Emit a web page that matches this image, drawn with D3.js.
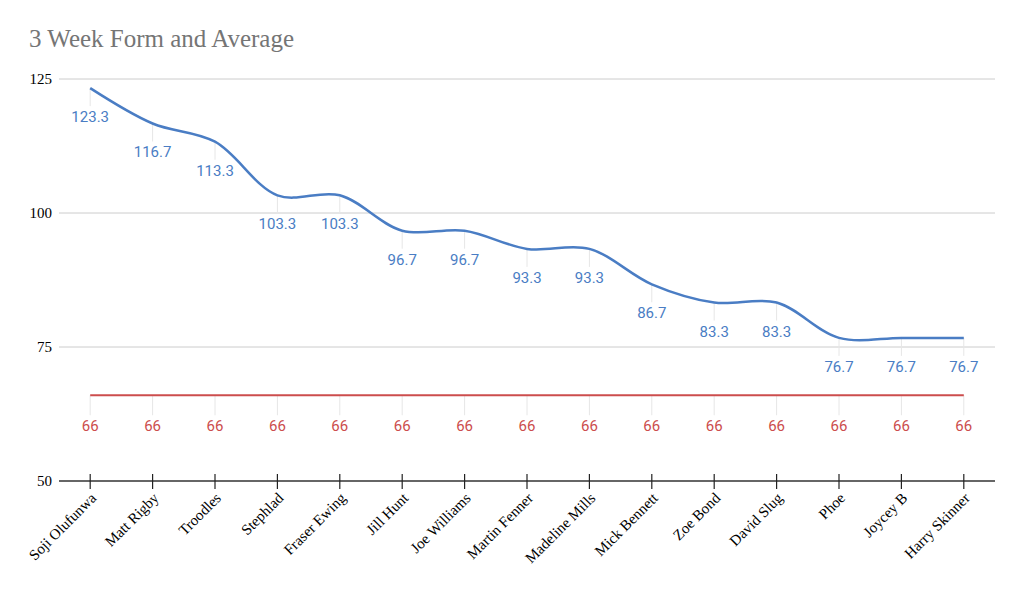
<!DOCTYPE html>
<html>
<head>
<meta charset="utf-8">
<script src="https://cdn.jsdelivr.net/npm/d3@7.9.0/dist/d3.min.js"></script>
<style>
  body { margin: 0; background: #fff; }
</style>
</head>
<body>
<div id="chart"></div>
<script>
// players, 3 week form, and the average line
const players = ['Soji Olufunwa', 'Matt Rigby', 'Troodles', 'Stephlad', 'Fraser Ewing', 'Jill Hunt',
  'Joe Williams', 'Martin Fenner', 'Madeline Mills', 'Mick Bennett', 'Zoe Bond', 'David Slug',
  'Phoe', 'Joycey B', 'Harry Skinner'];
const form = [123.3, 116.7, 113.3, 103.3, 103.3, 96.7, 96.7, 93.3, 93.3, 86.7, 83.3, 83.3, 76.7, 76.7, 76.7];
const average = [66, 66, 66, 66, 66, 66, 66, 66, 66, 66, 66, 66, 66, 66, 66];
const yTicks = [50, 75, 100, 125];

const width = 1022;
const height = 595;

const svg = d3.select('#chart')
  .append('svg')
  .attr('width', width)
  .attr('height', height);

// title
svg.append('text')
  .attr('x', 29)
  .attr('y', 47)
  .attr('font-family', 'Liberation Serif, Times New Roman, serif')
  .attr('font-size', 25)
  .attr('fill', '#757575')
  .text('3 Week Form and Average');

// scales
const x = d3.scalePoint().domain(players).range([59, 995]).padding(0.5);
const y = d3.scaleLinear().domain([50, 125]).range([481, 79]);

// gridlines
svg.append('g')
  .selectAll('line')
  .data(yTicks.filter(d => d !== 50))
  .join('line')
  .attr('x1', 59).attr('x2', 995)
  .attr('y1', d => y(d)).attr('y2', d => y(d))
  .attr('stroke', '#cccccc')
  .attr('stroke-width', 1);

// y labels
svg.append('g')
  .selectAll('text')
  .data(yTicks)
  .join('text')
  .attr('x', 52)
  .attr('y', d => y(d))
  .attr('dy', '0.35em')
  .attr('text-anchor', 'end')
  .attr('font-family', 'Liberation Serif, Times New Roman, serif')
  .attr('font-size', 15)
  .attr('fill', '#000')
  .text(d => d);

// leader lines for data labels
function leaders(values, gap) {
  svg.append('g')
    .selectAll('line')
    .data(values)
    .join('line')
    .attr('x1', (d, i) => x(players[i]))
    .attr('x2', (d, i) => x(players[i]))
    .attr('y1', d => y(d))
    .attr('y2', d => y(d) + gap)
    .attr('stroke', '#e6e6e6')
    .attr('stroke-width', 1);
}
leaders(form, 18);
leaders(average, 20);

// x axis
const xAxis = svg.append('g')
  .attr('transform', `translate(0,${y(50)})`);
xAxis.append('line')
  .attr('x1', 59).attr('x2', 995)
  .attr('stroke', '#333').attr('stroke-width', 1.5);
xAxis.selectAll('.tick')
  .data(players)
  .join('line')
  .attr('class', 'tick')
  .attr('x1', d => x(d)).attr('x2', d => x(d))
  .attr('y1', -7).attr('y2', 8)
  .attr('stroke', '#222').attr('stroke-width', 1.2);
xAxis.selectAll('.lbl')
  .data(players)
  .join('text')
  .attr('class', 'lbl')
  .attr('transform', d => `translate(${x(d) + 7},${18}) rotate(-45)`)
  .attr('text-anchor', 'end')
  .attr('font-family', 'Liberation Serif, Times New Roman, serif')
  .attr('font-size', 15)
  .attr('fill', '#000')
  .text(d => d);

// lines
const line = d3.line()
  .x((d, i) => x(players[i]))
  .y(d => y(d))
  .curve(d3.curveCatmullRom.alpha(0.5));

svg.append('path')
  .datum(average)
  .attr('d', line)
  .attr('fill', 'none')
  .attr('stroke', '#cc4d4d')
  .attr('stroke-width', 2.2);

svg.append('path')
  .datum(form)
  .attr('d', line)
  .attr('fill', 'none')
  .attr('stroke', '#4a7dc4')
  .attr('stroke-width', 2.5);

// data labels
svg.append('g')
  .selectAll('text')
  .data(form)
  .join('text')
  .attr('x', (d, i) => x(players[i]))
  .attr('y', d => y(d) + 34)
  .attr('text-anchor', 'middle')
  .attr('font-family', 'Roboto, sans-serif')
  .attr('font-size', 15)
  .attr('fill', '#4a7dc4')
  .text(d => d.toFixed(1));

svg.append('g')
  .selectAll('text')
  .data(average)
  .join('text')
  .attr('x', (d, i) => x(players[i]))
  .attr('y', d => y(d) + 36)
  .attr('text-anchor', 'middle')
  .attr('font-family', 'Roboto, sans-serif')
  .attr('font-size', 15)
  .attr('fill', '#cc4d4d')
  .text(d => d);
</script>
</body>
</html>
